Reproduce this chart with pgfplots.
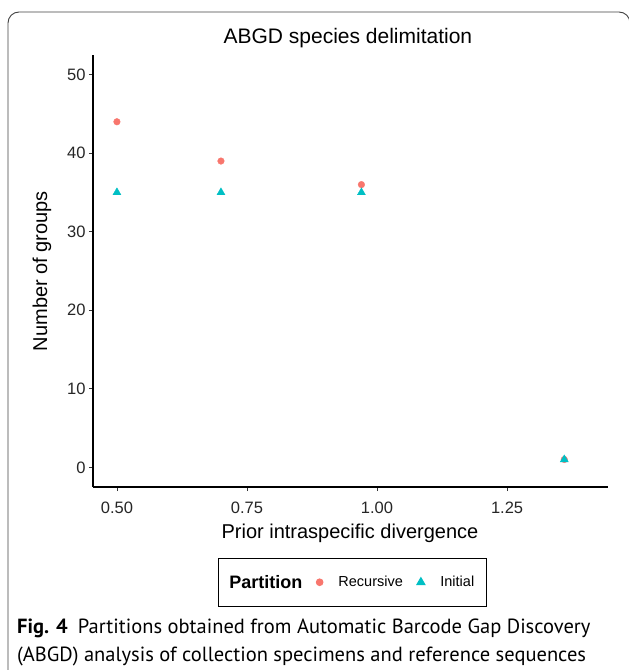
\documentclass[border=0pt]{standalone}
\usepackage{pgfplots}
\pgfplotsset{compat=1.18}
\usepackage{fontspec}
\setmainfont{Liberation Sans}
\newfontfamily\capfont{PT Sans}
\definecolor{rec}{HTML}{F8766D}
\definecolor{ini}{HTML}{00BFC4}
\begin{document}
\begin{tikzpicture}
\useasboundingbox (0pt,0pt) rectangle (629pt,670pt);
\draw[line width=0.9pt, black!75, rounded corners=11pt] (8pt,-30pt) -- (8pt,658pt) -- (630pt,658pt) -- (630pt,-30pt);
\begin{axis}[at={(93pt,183pt)}, anchor=south west, scale only axis, width=515pt, height=432pt,
 xmin=0.454, xmax=1.444, ymin=-2.5, ymax=52.5,
 axis lines*=left, axis line style={line width=1.6pt, black},
 xtick={0.5,0.75,1,1.25}, xticklabels={0.50,0.75,1.00,1.25},
 ytick={0,10,20,30,40,50},
 tick align=outside, major tick length=4pt, tick style={black!80, line width=0.8pt},
 ticklabel style={font=\fontsize{16.5}{18}\selectfont, text=black!85},
 xticklabel style={yshift=-7pt},
 /pgf/number format/assume math mode=true,
 title={ABGD species delimitation},
 title style={font=\fontsize{21}{24}\selectfont, at={(rel axis cs:0.495,1.0255)}, anchor=center},
 xlabel={Prior intraspecific divergence},
 ylabel={Number of groups},
 label style={font=\fontsize{20}{24}\selectfont},
 xlabel style={at={(rel axis cs:0.499,-0.1065)}, anchor=center},
 ylabel style={at={(rel axis cs:-0.099,0.5)}, anchor=center},
 legend columns=-1,
 legend style={at={(rel axis cs:0.5035,-0.2205)}, anchor=center, draw=black, line width=1pt,
   font=\fontsize{14.5}{17}\selectfont, inner xsep=10pt, inner ysep=14.5pt,
   /tikz/every even column/.append style={column sep=12pt},
   /tikz/every odd column/.append style={column sep=13.5pt}},
 clip=false,
]
\addlegendimage{empty legend}
\addlegendentry{\hspace*{-14.5pt}\fontsize{18}{20}\selectfont\bfseries Partition\hspace{5pt}}
\addplot[only marks, mark=*, mark size=3.3pt, color=rec, mark options={draw=rec, fill=rec}]
 coordinates {(0.5,44) (0.7,39) (0.97,36) (1.36,1)};
\addlegendentry{Recursive}
\addplot[only marks, mark=triangle*, mark size=4.6pt, color=ini, mark options={draw=ini, fill=ini}]
 coordinates {(0.5,35) (0.7,35) (0.97,35) (1.36,1)};
\addlegendentry{Initial}
\end{axis}
\node[anchor=base west, font=\capfont\fontsize{20.5}{22}\selectfont, inner sep=0pt] at (17pt,36pt) {\textbf{Fig. 4}\hspace{0.5em}Partitions obtained from Automatic Barcode Gap Discovery};
\node[anchor=base west, font=\capfont\fontsize{20.5}{22}\selectfont, inner sep=0pt] at (17pt,9pt) {(ABGD) analysis of collection specimens and reference sequences};
\end{tikzpicture}
\end{document}
